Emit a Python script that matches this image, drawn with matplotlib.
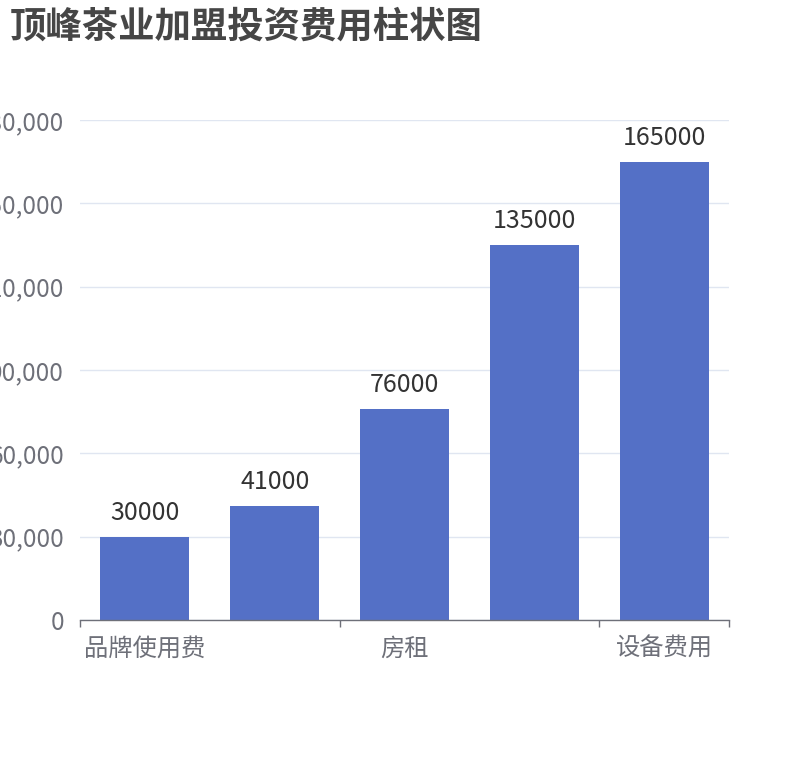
import matplotlib
matplotlib.use('Agg')
import matplotlib.pyplot as plt
from matplotlib.ticker import FuncFormatter, FixedLocator

plt.rcParams['font.family'] = ['Noto Sans CJK SC', 'DejaVu Sans']

# 数据
categories = ['品牌使用费', '装修费用', '房租', '首批进货', '设备费用']
values = [30000, 41000, 76000, 135000, 165000]
y_ticks = [0, 30000, 60000, 90000, 120000, 150000, 180000]

bar_color = '#5470C6'
axis_color = '#6E7079'
grid_color = '#E0E6F1'

fig = plt.figure(figsize=(8.1, 7.6), dpi=100)
ax = fig.add_axes([80 / 810, 1 - 620 / 760, 649 / 810, 500 / 760])

x = list(range(len(categories)))
bars = ax.bar(x, values, width=0.685, color=bar_color, zorder=3)

for xi, v in zip(x, values):
    ax.annotate(f'{v}', (xi, v), xytext=(0, 8), textcoords='offset points',
                ha='center', va='bottom', fontsize=18, color='#333333')

ax.set_xlim(-0.5, len(categories) - 0.5)
ax.set_ylim(0, 180000)
ax.set_yticks(y_ticks)
ax.yaxis.set_major_formatter(FuncFormatter(lambda v, p: f'{int(v):,}'))
ax.tick_params(axis='y', length=0, pad=11.5, labelsize=17.5, labelcolor=axis_color)
ax.grid(axis='y', color=grid_color, linewidth=1, zorder=0)

# x轴：刻度在类别边界，标签隔一个显示
ax.xaxis.set_major_locator(FixedLocator([-0.5, 1.5, 3.5, 4.5]))
ax.xaxis.set_major_formatter(FuncFormatter(lambda v, p: ''))
ax.xaxis.set_minor_locator(FixedLocator([0, 2, 4]))
ax.set_xticklabels([categories[i] for i in [0, 2, 4]], minor=True)
ax.tick_params(axis='x', which='major', length=5, width=1, color=axis_color, direction='out')
ax.tick_params(axis='x', which='minor', length=0, pad=11.5, labelsize=17.5, labelcolor=axis_color)

for s in ['top', 'right', 'left']:
    ax.spines[s].set_visible(False)
ax.spines['bottom'].set_color(axis_color)
ax.spines['bottom'].set_linewidth(1)
ax.spines['bottom'].set_zorder(4)

fig.text(10 / 810, 1 - 27 / 760, '顶峰茶业加盟投资费用柱状图', fontsize=26.2,
         fontweight='bold', color='#464646', ha='left', va='center')

fig.savefig('out.png', dpi=100)
